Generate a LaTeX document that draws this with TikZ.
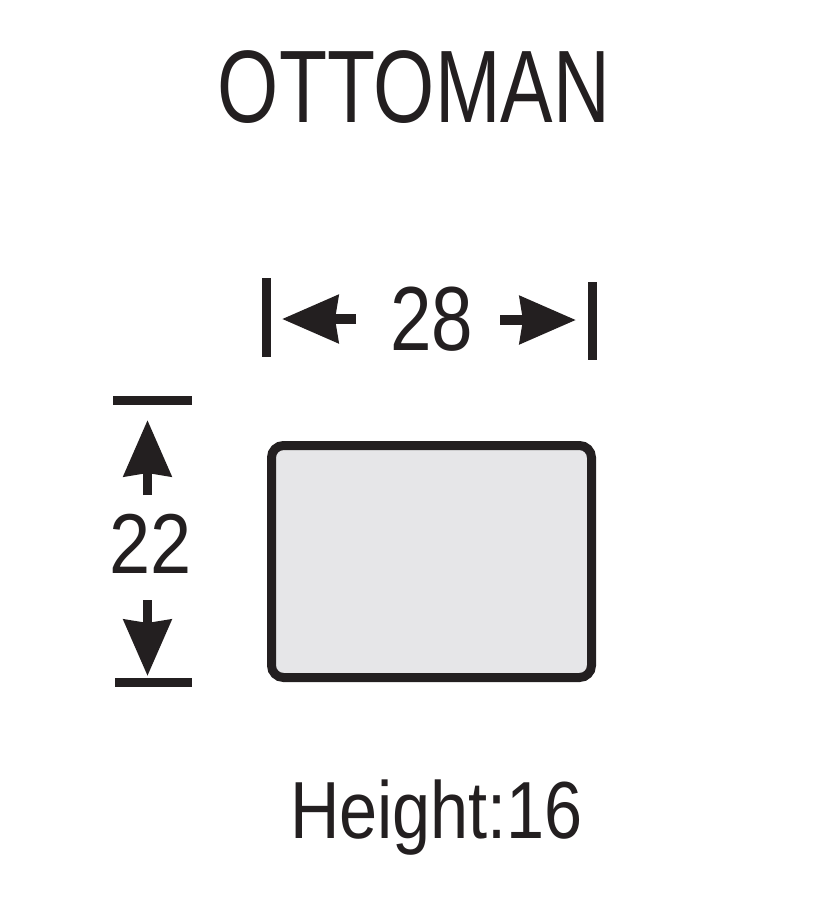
\documentclass[tikz,border=0pt]{standalone}
\usepackage{fontspec}
\setmainfont{Liberation Sans}
\usepackage{graphicx}
\usetikzlibrary{arrows.meta}
\definecolor{ink}{HTML}{231F20}
\definecolor{boxfill}{HTML}{E6E6E8}
\tikzset{
  lbl/.style={inner sep=0pt, anchor=base, text=ink},
  bar/.style={draw=ink, line width=9pt},
  dimarrow/.style={draw=ink, line width=9.5pt, -{Stealth[length=56pt,width=47pt,inset=3pt]}},
  seat/.style={draw=ink, fill=boxfill, line width=9pt, rounded corners=12pt}
}
\begin{document}
\begin{tikzpicture}[x=1pt,y=-1pt]
\useasboundingbox (0,0) rectangle (818,922);
% title
\node[lbl] (title) at (414,122) {\fontsize{103}{103}\selectfont\scalebox{0.764}[1]{OTTOMAN}};
% width dimension
\coordinate (lt) at (266.5,278); \coordinate (lb) at (266.5,357);
\coordinate (rt) at (592,282); \coordinate (rb) at (592,360);
\draw[bar] (lt) -- (lb);
\draw[bar] (rt) -- (rb);
\coordinate (las) at (356,319); \coordinate (lat) at (282,319);
\coordinate (ras) at (500,320); \coordinate (rat) at (576,320);
\draw[dimarrow] (las) -- (lat);
\draw[dimarrow] (ras) -- (rat);
\node[lbl] (w) at (431.5,350) {\fontsize{91}{91}\selectfont\scalebox{0.82}[1]{28}};
% depth dimension
\coordinate (tl) at (113,400.5); \coordinate (tr) at (192,400.5);
\coordinate (bl) at (115,682); \coordinate (br) at (192,682);
\draw[bar] (tl) -- (tr);
\draw[bar] (bl) -- (br);
\coordinate (uas) at (147.5,495); \coordinate (uat) at (147.5,420);
\coordinate (das) at (147.5,600); \coordinate (dat) at (147.5,676);
\draw[dimarrow] (uas) -- (uat);
\draw[dimarrow] (das) -- (dat);
\node[lbl] (d) at (151,573) {\fontsize{85}{85}\selectfont\scalebox{0.87}[1]{22}};
% ottoman
\draw[seat] (271.5,445.5) rectangle (591.5,677.5);
\node[lbl] (h) at (436.5,838) {\fontsize{81}{81}\selectfont\scalebox{0.845}[1]{Height:16}};
\end{tikzpicture}
\end{document}
